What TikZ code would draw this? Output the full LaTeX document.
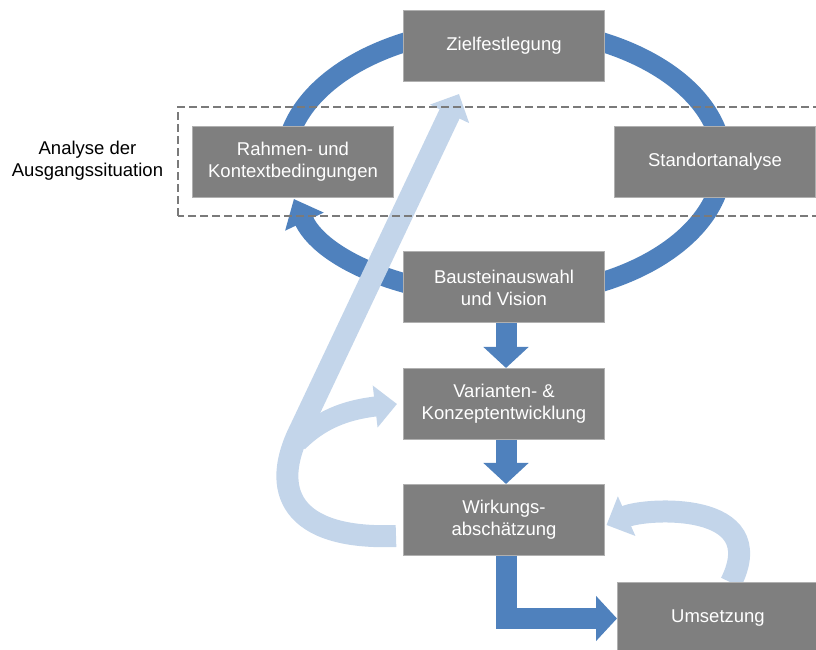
\documentclass[tikz,border=0pt]{standalone}
\usepackage{fontspec}
\setmainfont{Liberation Sans}
\usetikzlibrary{arrows.meta,backgrounds}
\definecolor{ringblue}{HTML}{4F81BD}
\definecolor{paleblue}{HTML}{C3D5EA}
\definecolor{boxgray}{HTML}{7F7F7F}
\definecolor{boxedge}{HTML}{B0B0B0}
\definecolor{framegray}{HTML}{7A7A7A}
\begin{document}
\begin{tikzpicture}[x=1pt,y=1pt,
  stagebox/.style={draw=boxedge,line width=1pt,fill=boxgray,text=white,
    minimum width=201pt,minimum height=71pt,inner sep=0pt,align=center,
    font=\fontsize{18.5}{22}\selectfont},
  flowarrow/.style={ringblue,line width=21pt,-{Triangle[width=44pt,length=21pt]}},
  backarrow/.style={paleblue,line width=22pt,-{Triangle[width=42pt,length=22pt]}}]
\useasboundingbox (0,0) rectangle (816,650);
\coordinate (ring) at (504,488);
% Draw stages
\node[stagebox] (ziel) at (504,604) {Zielfestlegung};
\node[stagebox] (rahmen) at (293,488) {Rahmen- und\\Kontextbedingungen};
\node[stagebox] (standort) at (715,488) {Standortanalyse};
\node[stagebox] (baustein) at (504,362.5) {Bausteinauswahl\\und Vision};
\node[stagebox] (varianten) at (504,246) {Varianten- \&\\Konzeptentwicklung};
\node[stagebox] (wirkung) at (504,130) {Wirkungs-\\abschätzung};
\node[stagebox] (umsetzung) at (718,31.5) {Umsetzung};
% Label of the dashed frame
\node[align=center,font=\fontsize{18.5}{22}\selectfont] (analyse) at (87.5,489) {Analyse der\\Ausgangssituation};
% Draw forward arrows
\draw[flowarrow] ([xshift=2pt]baustein.south) -- ([xshift=2pt]varianten.north);
\draw[flowarrow] ([xshift=2pt]varianten.south) -- ([xshift=2pt]wirkung.north);
\draw[flowarrow] ([xshift=2pt]wirkung.south) |- (umsetzung.west);
\begin{pgfonlayer}{background}
% Draw cycle
\draw[ringblue,line width=19.5pt,-{Triangle[width=41pt,length=25pt]}]
  ([shift={(190:218.6 and 134.2)}]ring) arc[start angle=190,end angle=-164,x radius=218.6,y radius=134.2];
% Draw feedback arrows
\coordinate (fork) at (298,208);
\draw[backarrow] ([shift={(-7pt,-16pt)}]wirkung.west) .. controls (290,110) and (270,160) .. (300,220)
  -- ([shift={(-45pt,-12pt)}]ziel.south);
\draw[paleblue,line width=20pt,-{Triangle[width=41pt,length=22pt]}] (fork) .. controls (320,230) and (345,240) .. ([xshift=-6pt]varianten.west);
\draw[backarrow] ([xshift=13pt]umsetzung.north) .. controls (772,150) and (645,142) .. ([shift={(1.5pt,-5pt)}]wirkung.east);
% Dashed frame
\draw[framegray,line width=2.8pt,dash pattern=on 8pt off 4pt] (178,434) rectangle (822,543);
\end{pgfonlayer}
\end{tikzpicture}
\end{document}
